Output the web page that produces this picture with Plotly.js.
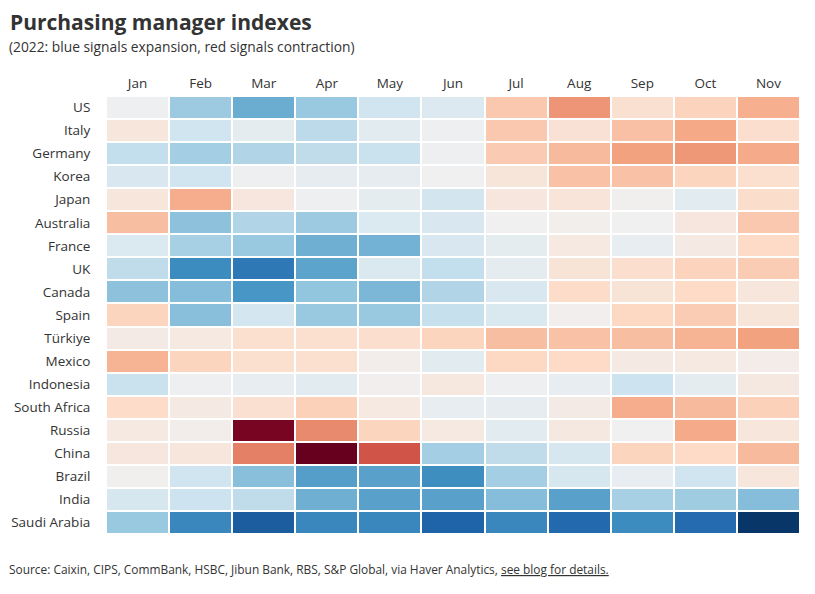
<!DOCTYPE html>
<html>
<head>
<meta charset="utf-8">
<script src="https://cdn.plot.ly/plotly-3.0.1.min.js"></script>
<style>html,body{margin:0;padding:0;background:#fff;}#chart{width:815px;height:594px;}</style>
</head>
<body>
<div id="chart"></div>
<script>
const months = ["Jan","Feb","Mar","Apr","May","Jun","Jul","Aug","Sep","Oct","Nov"];
const countries = ["US","Italy","Germany","Korea","Japan","Australia","France","UK","Canada","Spain","Türkiye","Mexico","Indonesia","South Africa","Russia","China","Brazil","India","Saudi Arabia"];

const us          = [50.1,53.3,54.5,53.4,51.8,51.1,46.5,44.2,48.0,47.0,45.3];
const italy       = [48.7,51.8,50.7,52.4,50.9,50.2,46.5,48.3,46.1,45.0,47.8];
const germany     = [52.2,53.1,52.7,52.3,52.0,50.1,46.6,45.8,44.7,44.3,45.1];
const korea       = [51.4,51.8,50.2,50.6,50.6,50.0,48.6,46.2,46.2,47.1,47.9];
const japan       = [48.7,45.2,48.8,50.1,50.7,51.7,48.8,48.5,49.9,50.8,47.7];
const australia   = [46.0,53.7,52.7,53.3,51.2,51.4,50.0,49.7,50.0,48.8,46.5];
const france      = [51.2,53.0,53.4,54.4,54.3,51.4,50.7,49.1,50.5,49.2,47.4];
const uk          = [52.3,55.7,56.5,54.8,51.3,52.2,50.7,48.4,47.8,47.0,46.7];
const canada      = [53.7,53.9,55.3,53.6,54.1,52.7,51.4,47.5,48.4,47.4,48.7];
const spain       = [47.1,53.8,51.6,53.4,53.4,52.1,51.3,49.8,47.3,46.7,48.6];
const turkiye     = [49.3,49.1,47.9,47.9,47.8,47.1,46.0,46.2,46.0,45.5,44.7];
const mexico      = [45.5,47.1,47.9,47.9,49.6,50.9,47.3,47.4,49.2,49.1,49.5];
const indonesia   = [52.0,50.1,50.5,50.8,49.8,48.9,50.1,50.5,51.9,50.7,49.0];
const southAfrica = [47.5,49.2,48.0,46.9,49.1,50.5,50.6,49.3,45.2,45.8,46.9];
const russia      = [49.1,49.6,37.6,43.8,47.1,49.1,50.8,49.0,50.0,45.1,48.7];
const china       = [48.8,48.7,43.4,37.0,41.8,53.1,52.3,51.5,47.1,47.4,45.8];
const brazil      = [49.9,51.8,53.8,55.0,54.9,55.6,53.1,51.5,50.5,51.8,48.7];
const india       = [51.5,51.9,52.3,54.4,54.9,54.9,53.9,54.9,53.0,53.2,53.9];
const saudiArabia = [53.4,55.9,57.5,55.9,55.9,57.3,55.9,57.1,55.7,57.0,58.8];

const z = [us,italy,germany,korea,japan,australia,france,uk,canada,spain,turkiye,mexico,indonesia,southAfrica,russia,china,brazil,india,saudiArabia];

const zmin = 37, zmax = 59, zneutral = 50;
const reds  = ["#67001f","#b2182b","#d6604d","#f4a582","#fddbc7","#f0f0f0"];
const blues = ["#f0f0f0","#d1e5f0","#92c5de","#4393c3","#2166ac","#053061"];
const mid = (zneutral - zmin) / (zmax - zmin);
const colorscale = [];
reds.forEach((c,i)=>colorscale.push([mid*i/5, c]));
blues.slice(1).forEach((c,i)=>colorscale.push([mid + (1-mid)*(i+1)/5, c]));

const fontFam = "'Open Sans', Lato, sans-serif";
const plotW = 694, plotH = 438, marginL = 106, marginT = 96;

const trace = {
  type: "heatmap",
  x: months,
  y: countries,
  z: z,
  zmin: zmin,
  zmax: zmax,
  colorscale: colorscale,
  showscale: false,
  xgap: 2,
  ygap: 2,
  hoverinfo: "x+y+z"
};

const layout = {
  width: 815,
  height: 594,
  margin: {l: marginL, r: 15, t: marginT, b: 60},
  paper_bgcolor: "#fff",
  plot_bgcolor: "#fff",
  font: {family: fontFam, color: "#333", size: 13},
  xaxis: {
    side: "top",
    showgrid: false,
    zeroline: false,
    showline: false,
    ticks: "outside",
    ticklen: 2,
    tickcolor: "rgba(0,0,0,0)",
    tickfont: {size: 13.5, color: "#333"},
    fixedrange: true
  },
  yaxis: {
    autorange: "reversed",
    showgrid: false,
    zeroline: false,
    showline: false,
    ticks: "outside",
    ticklen: 12,
    tickcolor: "rgba(0,0,0,0)",
    tickfont: {size: 13.5, color: "#333"},
    fixedrange: true
  },
  annotations: [
    {xref: "paper", yref: "paper", x: (8-marginL)/plotW, y: 1 + (marginT-22)/plotH, xanchor: "left", yanchor: "middle",
     text: "<b>Purchasing manager indexes</b>", showarrow: false, font: {size: 21, color: "#333", family: fontFam}},
    {xref: "paper", yref: "paper", x: (7-marginL)/plotW, y: 1 + (marginT-47)/plotH, xanchor: "left", yanchor: "middle",
     text: "(2022: blue signals expansion, red signals contraction)", showarrow: false, font: {size: 13.8, color: "#333", family: fontFam}},
    {xref: "paper", yref: "paper", x: (7-marginL)/plotW, y: -(569-(marginT+plotH))/plotH, xanchor: "left", yanchor: "middle",
     text: "Source: Caixin, CIPS, CommBank, HSBC, Jibun Bank, RBS, S&P Global, via Haver Analytics, <span style=\"text-decoration:underline\">see blog for details.</span>",
     showarrow: false, font: {size: 11.9, color: "#333", family: fontFam}}
  ]
};

Plotly.newPlot("chart", [trace], layout, {displayModeBar: false});
</script>
</body>
</html>
